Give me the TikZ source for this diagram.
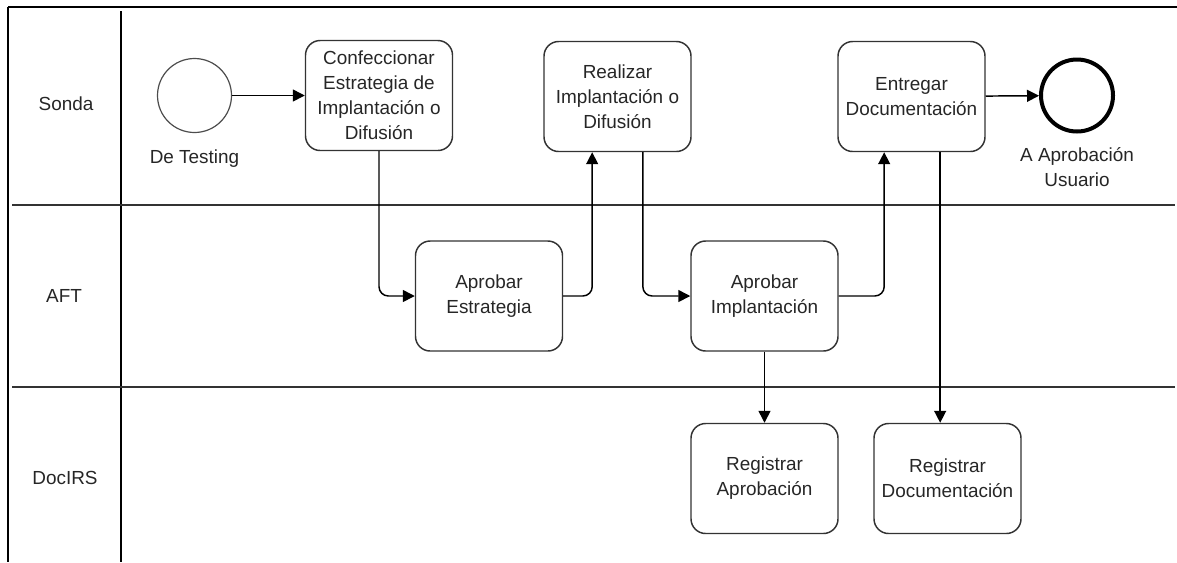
\documentclass[tikz,border=0pt]{standalone}
\usepackage{fontspec}
\setmainfont{Liberation Sans}
\usetikzlibrary{arrows.meta}
\begin{document}
\begin{tikzpicture}[x=0.75pt,y=-0.75pt,
  txt/.style={font=\fontsize{14.2}{18.75}\selectfont, text=black!85, align=center},
  task/.style={txt, draw=black!80, line width=1.1pt, rounded corners=11pt,
    minimum width=110.25pt, minimum height=82.5pt, inner sep=0pt},
  startev/.style={circle, draw=black!70, line width=0.9pt, minimum size=55.5pt, inner sep=0pt},
  endev/.style={circle, draw=black, line width=3pt, minimum size=54pt, inner sep=0pt},
  lane/.style={draw=black!80, line width=1.1pt},
  flow/.style={draw=black, line width=1.1pt, rounded corners=7pt,
    -{Triangle[length=9pt,width=9pt]}}]
\useasboundingbox (0,0) rectangle (1177,562);

% pool frame and lane separators
\draw[line width=1.4pt] (8,7) -- (1177,7);
\draw[line width=1.4pt] (8,7) -- (8,562);
\draw[line width=1.4pt] (121,11) -- (121,562);
\draw[lane] (12,205) -- (1175,205);
\draw[lane] (12,387) -- (1175,387);

% lane names
\node[txt] (lSonda) at (66,104) {Sonda};
\node[txt] (lAFT) at (64,296) {AFT};
\node[txt] (lDoc) at (65,478) {DocIRS};

% events
\node[startev] (start) at (194.5,95.5) {};
\node[txt, anchor=north] (startLbl) at (194.5,145) {De Testing};
\node[endev] (end) at (1077,95.5) {};
\node[txt, anchor=north] (endLbl) at (1077,143) {A Aprobación\\Usuario};

% tasks
\node[task] (conf) at (379,95.5) {Confeccionar\\Estrategia de\\Implantación o\\Difusión};
\node[task] (real) at (617.5,96.5) {Realizar\\Implantación o\\Difusión};
\node[task] (entr) at (911.5,96.5) {Entregar\\Documentación};
\node[task] (apEst) at (489,296) {Aprobar\\Estrategia};
\node[task] (apImp) at (764.5,296) {Aprobar\\Implantación};
\node[task] (regAp) at (764.5,478.5) {Registrar\\Aprobación};
\node[task] (regDoc) at (947.5,478.5) {Registrar\\Documentación};

% attachment points on task borders
\coordinate (realIn) at ([xshift=-19pt]real.south);
\coordinate (realOut) at ([xshift=19pt]real.south);
\coordinate (entrIn) at ([xshift=-20.5pt]entr.south);
\coordinate (entrOut) at ([xshift=21.5pt]entr.south);

% sequence flows
\draw[flow] (start) -- (conf);
\draw[flow] (conf.south) |- (apEst.west);
\draw[flow] (apEst.east) -| (realIn);
\draw[flow] (realOut) |- (apImp.west);
\draw[flow] (apImp.east) -| (entrIn);
\draw[flow] (entr) -- (end);
\draw[flow] (apImp.south) -- (regAp.north);
\draw[flow] (entrOut) -- (entrOut |- regDoc.north);
\end{tikzpicture}
\end{document}
